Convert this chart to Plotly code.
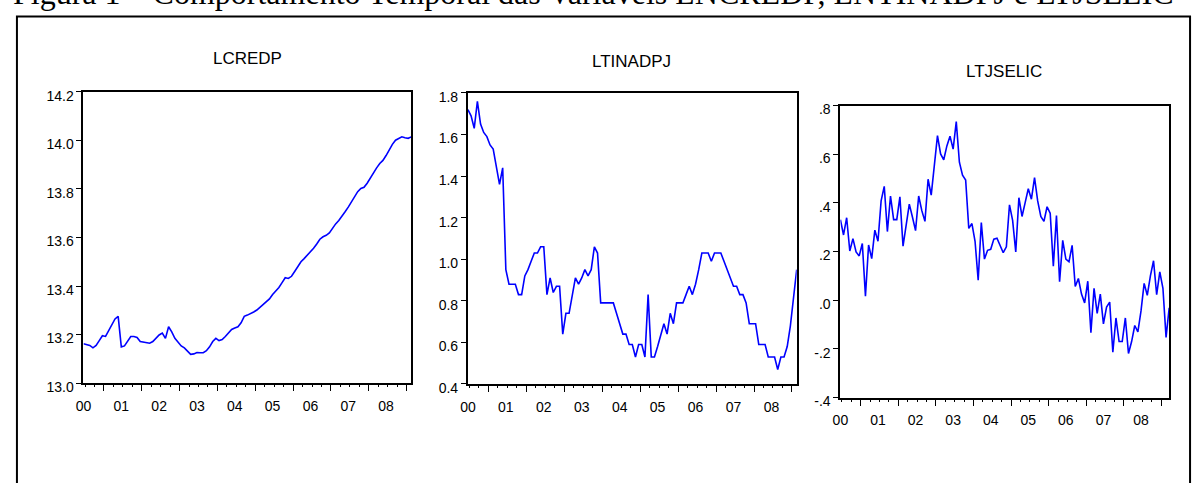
import plotly.graph_objects as go

year_labels = ["00", "01", "02", "03", "04", "05", "06", "07", "08"]
titles = ["LCREDP", "LTINADPJ", "LTJSELIC"]

lcredp = [13.162, 13.158, 13.155, 13.145, 13.155, 13.175, 13.195, 13.192, 13.215, 13.241,
          13.264, 13.275, 13.149, 13.153, 13.175, 13.192, 13.192, 13.188, 13.171, 13.168,
          13.168, 13.164, 13.171, 13.184, 13.198, 13.206, 13.184, 13.232, 13.211, 13.184,
          13.168, 13.153, 13.145, 13.131, 13.118, 13.120, 13.126, 13.125, 13.125, 13.133,
          13.149, 13.171, 13.184, 13.175, 13.179, 13.192, 13.208, 13.221, 13.227, 13.232,
          13.248, 13.275, 13.280, 13.285, 13.293, 13.301, 13.312, 13.325, 13.334, 13.347,
          13.365, 13.378, 13.394, 13.414, 13.434, 13.431, 13.440, 13.460, 13.480, 13.500,
          13.513, 13.527, 13.540, 13.556, 13.573, 13.593, 13.603, 13.609, 13.619, 13.639,
          13.656, 13.670, 13.686, 13.706, 13.725, 13.745, 13.768, 13.789, 13.802, 13.807,
          13.824, 13.847, 13.869, 13.887, 13.905, 13.918, 13.938, 13.962, 13.984, 14.001,
          14.009, 14.015, 14.011, 14.009, 14.015]

ltinadpj = [1.72, 1.69, 1.63, 1.76, 1.65, 1.61, 1.59, 1.55, 1.53, 1.45,
            1.36, 1.44, 0.95, 0.88, 0.88, 0.88, 0.83, 0.83, 0.92, 0.95,
            0.99, 1.03, 1.03, 1.06, 1.06, 0.83, 0.91, 0.84, 0.87, 0.87,
            0.64, 0.74, 0.74, 0.83, 0.91, 0.88, 0.91, 0.95, 0.92, 0.95,
            1.06, 1.03, 0.79, 0.79, 0.79, 0.79, 0.79, 0.74, 0.69, 0.64,
            0.64, 0.59, 0.59, 0.53, 0.59, 0.59, 0.53, 0.83, 0.53, 0.53,
            0.58, 0.64, 0.69, 0.64, 0.74, 0.69, 0.79, 0.79, 0.79, 0.83,
            0.87, 0.83, 0.88, 0.95, 1.03, 1.03, 1.03, 0.99, 1.03, 1.03,
            1.03, 0.99, 0.95, 0.91, 0.87, 0.87, 0.83, 0.83, 0.79, 0.69,
            0.69, 0.69, 0.59, 0.59, 0.59, 0.53, 0.53, 0.53, 0.47, 0.53,
            0.53, 0.58, 0.68, 0.81, 0.95]

ltjselic = [0.331, 0.268, 0.339, 0.202, 0.253, 0.198, 0.182, 0.233, 0.016, 0.227,
            0.171, 0.288, 0.242, 0.408, 0.468, 0.282, 0.428, 0.331, 0.331, 0.425,
            0.222, 0.315, 0.395, 0.342, 0.286, 0.428, 0.368, 0.324, 0.497, 0.432,
            0.551, 0.676, 0.601, 0.577, 0.634, 0.674, 0.621, 0.734, 0.567, 0.514,
            0.494, 0.295, 0.315, 0.242, 0.082, 0.319, 0.169, 0.205, 0.209, 0.251,
            0.255, 0.222, 0.195, 0.219, 0.392, 0.328, 0.198, 0.421, 0.344, 0.401,
            0.458, 0.415, 0.504, 0.408, 0.344, 0.324, 0.384, 0.357, 0.140, 0.348,
            0.076, 0.246, 0.169, 0.158, 0.225, 0.056, 0.089, 0.025, -0.011, 0.078,
            -0.134, 0.049, -0.054, 0.025, -0.097, -0.028, -0.008, -0.214, -0.073, -0.170,
            -0.170, -0.073, -0.219, -0.170, -0.104, -0.130, -0.044, 0.069, 0.020, 0.100,
            0.162, 0.023, 0.116, 0.049, -0.153, -0.031]

y_ranges = [[13.0, 14.2], [0.4, 1.8], [-0.4, 0.8]]
y_ticks = [[13.0, 13.2, 13.4, 13.6, 13.8, 14.0, 14.2],
           [0.4, 0.6, 0.8, 1.0, 1.2, 1.4, 1.6, 1.8],
           [-0.4, -0.2, 0.0, 0.2, 0.4, 0.6, 0.8]]
y_ticktext = [["13.0", "13.2", "13.4", "13.6", "13.8", "14.0", "14.2"],
              ["0.4", "0.6", "0.8", "1.0", "1.2", "1.4", "1.6", "1.8"],
              ["-.4", "-.2", ".0", ".2", ".4", ".6", ".8"]]

series = [lcredp, ltinadpj, ltjselic]

# ---------------- layout geometry (page pixels) ----------------
W, H = 1198, 483
boxes = [(76, 406, 91, 392), (463, 794, 92, 393), (838, 1169, 105, 407)]
title_pos = [(241, 56), (628, 59), (1003, 70)]


def px(x):
    return x / W


def py(y):
    return 1 - y / H


FONT = "Arial, Liberation Sans, sans-serif"

fig = go.Figure()
layout = dict(
    width=W, height=H,
    margin=dict(l=0, r=0, t=0, b=0),
    paper_bgcolor="white", plot_bgcolor="white",
    showlegend=False,
    font=dict(family=FONT, size=14, color="black"),
)

annotations = []
for i, (vals, box) in enumerate(zip(series, boxes)):
    n = len(vals)
    xs = list(range(n))
    xa = "x" if i == 0 else f"x{i+1}"
    ya = "y" if i == 0 else f"y{i+1}"
    fig.add_trace(go.Scatter(x=xs, y=vals, mode="lines", xaxis=xa, yaxis=ya,
                             line=dict(color="#0000FF", width=1.6), hoverinfo="skip"))
    x0, x1, y0, y1 = box
    xdom = [px(x0), px(x1)]
    ydom = [py(y1), py(y0)]
    key = "" if i == 0 else str(i + 1)
    layout["xaxis" + key] = dict(
        domain=xdom, anchor=ya, range=[0, n - 1],
        tickmode="array", tickvals=[12 * k for k in range(len(year_labels))],
        ticktext=year_labels, ticks="", ticklabelstandoff=9,
        showgrid=False, zeroline=False,
        showline=True, linecolor="black", linewidth=2, mirror=True,
        tickfont=dict(family=FONT, size=14, color="black"),
    )
    layout["yaxis" + key] = dict(
        domain=ydom, anchor=xa, range=y_ranges[i],
        tickmode="array", tickvals=y_ticks[i], ticktext=y_ticktext[i],
        ticks="outside", ticklen=5, tickwidth=1, tickcolor="black",
        ticklabelshift=4,
        showgrid=False, zeroline=False,
        showline=True, linecolor="black", linewidth=2, mirror=True,
        tickfont=dict(family=FONT, size=14, color="black"),
    )
    # overlay axis carrying the year / quarter tick marks
    ok = str(i + 4)
    layout["xaxis" + ok] = dict(
        domain=xdom, anchor=ya, overlaying=xa, range=[0, n - 1],
        tickmode="array", tickvals=[6.5 + 12 * k for k in range(len(year_labels))],
        showticklabels=False, ticks="outside", ticklen=7, tickwidth=1, tickcolor="black",
        minor=dict(tickmode="linear", tick0=0.5, dtick=3, ticks="outside",
                   ticklen=3, tickwidth=1, tickcolor="black"),
        showgrid=False, zeroline=False, showline=False,
    )
    fig.add_trace(go.Scatter(x=[None], y=[None], xaxis="x" + ok, yaxis=ya,
                             mode="lines", hoverinfo="skip"))
    tx, ty = title_pos[i]
    annotations.append(dict(text=titles[i], x=px(tx), y=py(ty), xref="paper", yref="paper",
                            xanchor="center", yanchor="middle", showarrow=False,
                            font=dict(family=FONT, size=17, color="black")))

# figure caption (cut off at the top of the picture)
annotations.append(dict(
    text="Figura 1 – Comportamento Temporal das Variáveis LNCREDP, LNTINADPJ e LTJSELIC",
    x=px(3), y=py(9), xref="paper", yref="paper", xanchor="left", yanchor="bottom",
    showarrow=False, font=dict(family="Liberation Serif, Times New Roman, serif", size=32, color="black")))

layout["annotations"] = annotations
layout["shapes"] = [dict(type="rect", xref="paper", yref="paper",
                         x0=px(9), x1=px(1190), y0=py(540), y1=py(13),
                         line=dict(color="black", width=2), fillcolor="rgba(0,0,0,0)")]

fig.update_layout(**layout)
fig.write_html("out.html", config={"displayModeBar": False},
               post_script="document.body.style.margin='0';document.body.style.overflow='hidden';")
